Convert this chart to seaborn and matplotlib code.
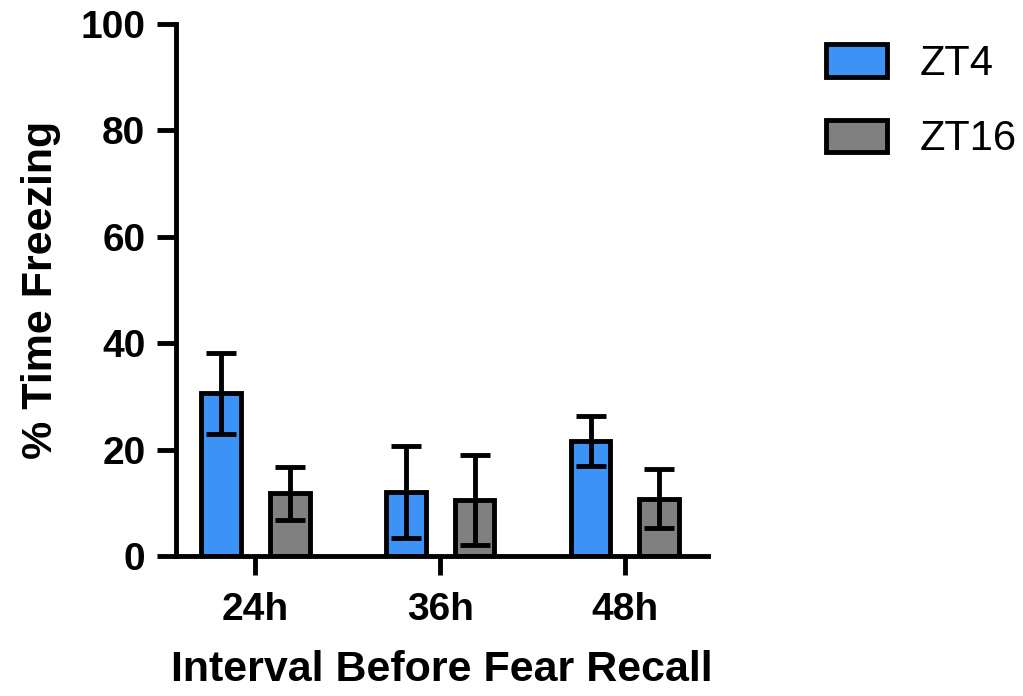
import matplotlib
matplotlib.use("Agg")
import matplotlib.pyplot as plt
import seaborn as sns
import pandas as pd
import numpy as np

# Data
intervals = ["24h", "36h", "48h"]
groups = ["ZT4", "ZT16"]
zt4_mean = [30.6, 12.0, 21.6]
zt4_sem = [7.6, 8.6, 4.7]
zt16_mean = [11.8, 10.5, 10.8]
zt16_sem = [5.0, 8.4, 5.6]
yticks = [0, 20, 40, 60, 80, 100]

colors = {"ZT4": "#3C93F5", "ZT16": "#808080"}

df = pd.DataFrame({
    "interval": intervals * 2,
    "group": ["ZT4"] * 3 + ["ZT16"] * 3,
    "freezing": zt4_mean + zt16_mean,
})
sems = {"ZT4": zt4_sem, "ZT16": zt16_sem}

sns.set_style("white")
plt.rcParams["font.family"] = ["Liberation Sans", "DejaVu Sans"]
plt.rcParams["text.color"] = "black"
plt.rcParams["axes.labelcolor"] = "black"
plt.rcParams["xtick.color"] = "black"
plt.rcParams["ytick.color"] = "black"

LW = 3.5

fig = plt.figure(figsize=(10.23, 6.96), dpi=100)
ax = fig.add_axes([176 / 1023, 1 - 556 / 696, (708 - 176) / 1023, (556 - 24) / 696])

sns.barplot(data=df, x="interval", y="freezing", hue="group", order=intervals,
            hue_order=groups, palette=colors, width=0.744, gap=0.42,
            edgecolor="black", linewidth=LW, errorbar=None, saturation=1, ax=ax,
            legend=True)

for cont, g in zip(ax.containers, groups):
    xs = [b.get_x() + b.get_width() / 2 for b in cont]
    ys = [b.get_height() for b in cont]
    ax.errorbar(xs, ys, yerr=sems[g], fmt="none", ecolor="black",
                elinewidth=LW, capsize=10.5, capthick=LW, zorder=5)

ax.set_ylim(0, 100)
ax.set_xlim(-0.43, 2.45)
ax.set_yticks(yticks)
ax.set_yticklabels([str(t) for t in yticks])

for s in ["top", "right"]:
    ax.spines[s].set_visible(False)
for s in ["left", "bottom"]:
    ax.spines[s].set_linewidth(LW)
    ax.spines[s].set_color("black")

ax.tick_params(axis="both", which="major", length=14, width=LW, color="black",
               labelcolor="black", direction="out", labelsize=28,
               bottom=True, left=True)
ax.tick_params(axis="y", pad=8)
ax.tick_params(axis="x", pad=12)
for lab in ax.get_xticklabels() + ax.get_yticklabels():
    lab.set_fontweight("bold")

ax.set_xlabel("Interval Before Fear Recall", fontsize=31, fontweight="bold",
              labelpad=16, color="black")
ax.set_ylabel("% Time Freezing", fontsize=31, fontweight="bold", labelpad=14,
              color="black")

handles, labels = ax.get_legend_handles_labels()
if ax.legend_:
    ax.legend_.remove()
leg = fig.legend(handles, labels, loc="upper left",
                 bbox_to_anchor=(826 / 1023, 1 - 44 / 696),
                 frameon=False, fontsize=30, handlelength=1.46,
                 handleheight=0.82, handletextpad=0.78, labelspacing=0.85,
                 borderpad=0, borderaxespad=0)
for h in leg.legend_handles:
    h.set_edgecolor("black")
    h.set_linewidth(LW)
for t in leg.get_texts():
    t.set_color("black")

fig.savefig("out.png", dpi=100)
